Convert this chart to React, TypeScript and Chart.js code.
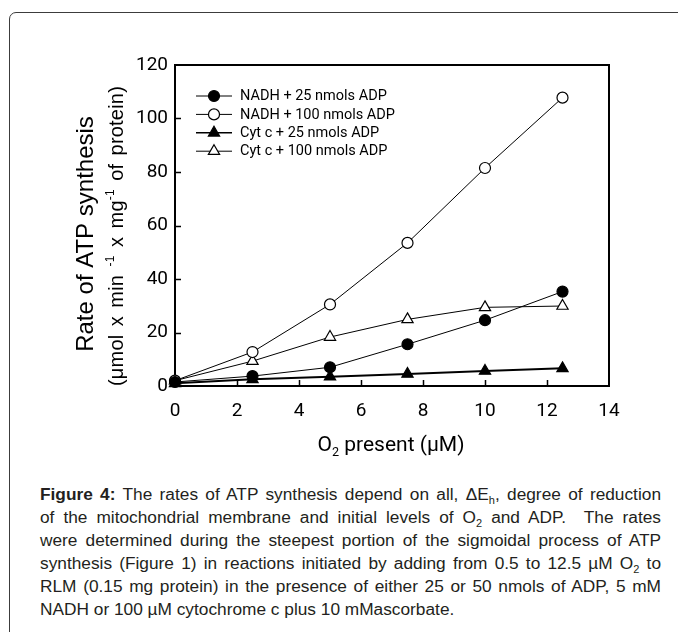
import React, { useEffect, useRef } from "react";
import { Chart, registerables } from "chart.js";

Chart.register(...registerables);

// ---- data ----
const O2_PRESENT = [0, 2.5, 5, 7.5, 10, 12.5];
const NADH_25 = [1.5, 3.7, 7.0, 15.6, 24.6, 35.3];
const NADH_100 = [2.0, 12.7, 30.5, 53.5, 81.5, 107.8];
const CYT_25 = [1.0, 2.5, 3.5, 4.5, 5.6, 6.6];
const CYT_100 = [2.0, 9.3, 18.3, 24.9, 29.4, 29.9];
const SERIES_LABELS = [
  "NADH + 25 nmols ADP",
  "NADH + 100 nmols ADP",
  "Cyt c + 25 nmols ADP",
  "Cyt c + 100 nmols ADP",
];
const X_TICK_MARKS = [2, 4, 6, 8, 10, 12];
const Y_TICK_MARKS = [20, 40, 60, 80, 100];

const TICK_FONT = "Roboto";
const SANS = "'Liberation Sans', Arial, sans-serif";

type Marker = { shape: "circle" | "triangle"; filled: boolean; lw: number };
const MARKERS: Marker[] = [
  { shape: "circle", filled: true, lw: 1 },
  { shape: "circle", filled: false, lw: 1 },
  { shape: "triangle", filled: true, lw: 2 },
  { shape: "triangle", filled: false, lw: 1 },
];

function drawMarker(ctx: CanvasRenderingContext2D, m: Marker, x: number, y: number) {
  ctx.beginPath();
  if (m.shape === "circle") {
    ctx.arc(x, y, 5.5, 0, Math.PI * 2);
  } else {
    const r = 6.5;
    ctx.moveTo(x, y - r);
    ctx.lineTo(x + 0.866 * r, y + 0.5 * r);
    ctx.lineTo(x - 0.866 * r, y + 0.5 * r);
    ctx.closePath();
  }
  ctx.fillStyle = m.filled ? "#000" : "#fff";
  ctx.fill();
  ctx.lineWidth = 1.2;
  ctx.strokeStyle = "#000";
  ctx.stroke();
}

const framePlugin = {
  id: "frameTicks",
  beforeDatasetsDraw(chart: any) {
    const { ctx, chartArea: a, scales } = chart;
    ctx.save();
    ctx.strokeStyle = "#000";
    ctx.lineWidth = 2;
    ctx.strokeRect(a.left, a.top, a.right - a.left, a.bottom - a.top);
    ctx.lineWidth = 1.5;
    ctx.beginPath();
    X_TICK_MARKS.forEach((v) => {
      const px = Math.round(scales.x.getPixelForValue(v)) + 0.5;
      ctx.moveTo(px, a.bottom);
      ctx.lineTo(px, a.bottom - 6);
    });
    Y_TICK_MARKS.forEach((v) => {
      const py = Math.round(scales.y.getPixelForValue(v)) + 0.5;
      ctx.moveTo(a.left, py);
      ctx.lineTo(a.left + 6, py);
    });
    ctx.stroke();
    ctx.restore();
  },
};

const decorPlugin = {
  id: "decor",
  afterDraw(chart: any) {
    const { ctx } = chart;
    ctx.save();
    // legend
    const lx0 = 196, lx1 = 232, mx = 214, tx = 240;
    SERIES_LABELS.forEach((lab, i) => {
      const y = 96 + 18.4 * i;
      ctx.strokeStyle = "#000";
      ctx.lineWidth = MARKERS[i].lw === 2 ? 1.6 : 1;
      ctx.beginPath();
      ctx.moveTo(lx0, y);
      ctx.lineTo(lx1, y);
      ctx.stroke();
      drawMarker(ctx, MARKERS[i], mx, y);
      ctx.fillStyle = "#000";
      ctx.font = `14.5px ${TICK_FONT}`;
      ctx.textAlign = "left";
      ctx.textBaseline = "middle";
      ctx.fillText(lab, tx, y + 0.5);
    });

    // y title line 1
    ctx.save();
    ctx.translate(86, 234);
    ctx.rotate(-Math.PI / 2);
    ctx.font = `24px ${SANS}`;
    ctx.fillStyle = "#000";
    ctx.textAlign = "center";
    ctx.textBaseline = "middle";
    ctx.fillText("Rate of ATP synthesis", 0, 0);
    ctx.restore();

    // y title line 2 (rich)
    ctx.save();
    ctx.translate(116, 236);
    ctx.rotate(-Math.PI / 2);
    const base = 20;
    const segs = [
      { t: "(μmol x min ", sup: false },
      { t: "-1", sup: true },
      { t: " x mg", sup: false },
      { t: "-1", sup: true },
      { t: " of protein)", sup: false },
    ];
    const fontOf = (s: boolean) => `${s ? base * 0.6 : base}px ${SANS}`;
    (ctx as any).letterSpacing = "0.2px";
    let total = 0;
    let nSpaces = 0;
    segs.forEach((s) => {
      ctx.font = fontOf(s.sup);
      total += ctx.measureText(s.t).width;
      nSpaces += (s.t.match(/ /g) || []).length;
    });
    const target = 300;
    const wsp = Math.max(0, (target - total) / nSpaces);
    (ctx as any).wordSpacing = `${wsp}px`;
    let cx = -target / 2;
    ctx.textAlign = "left";
    ctx.textBaseline = "alphabetic";
    ctx.fillStyle = "#000";
    segs.forEach((s) => {
      ctx.font = fontOf(s.sup);
      const w = ctx.measureText(s.t).width;
      ctx.fillText(s.t, cx, s.sup ? 6.5 - base * 0.42 : 6.5);
      cx += w;
    });
    (ctx as any).letterSpacing = "0px";
    (ctx as any).wordSpacing = "0px";
    ctx.restore();

    // x title
    ctx.fillStyle = "#000";
    ctx.textBaseline = "alphabetic";
    ctx.textAlign = "left";
    const xf = 21;
    ctx.font = `${xf}px ${TICK_FONT}`;
    const wO = ctx.measureText("O").width;
    const rest = " present (μM)";
    const wR = ctx.measureText(rest).width;
    ctx.font = `${xf * 0.6}px ${TICK_FONT}`;
    const w2 = ctx.measureText("2").width;
    const totalW = wO + w2 + wR;
    let sx = 391 - totalW / 2;
    const bl = 451;
    ctx.font = `${xf}px ${TICK_FONT}`;
    ctx.fillText("O", sx, bl);
    sx += wO;
    ctx.font = `${xf * 0.6}px ${TICK_FONT}`;
    ctx.fillText("2", sx, bl + 5);
    sx += w2;
    ctx.font = `${xf}px ${TICK_FONT}`;
    ctx.fillText(rest, sx, bl);

    ctx.restore();
  },
};

function makeDataset(i: number, vals: number[]) {
  const m = MARKERS[i];
  return {
    label: SERIES_LABELS[i],
    data: O2_PRESENT.map((x, k) => ({ x, y: vals[k] })),
    borderColor: "#000",
    borderWidth: m.lw,
    pointStyle: m.shape,
    pointRadius: m.shape === "circle" ? 5.5 : 6.5,
    pointHoverRadius: m.shape === "circle" ? 5.5 : 6.5,
    pointBackgroundColor: m.filled ? "#000" : "#fff",
    pointBorderColor: "#000",
    pointBorderWidth: 1.2,
    tension: 0,
    fill: false,
    clip: false as any,
  };
}

const subStyle: React.CSSProperties = { fontSize: 11, lineHeight: 0 };

const captionLines: React.ReactNode[] = [
  <>
    <b>Figure 4:</b> The rates of ATP synthesis depend on all, ΔE
    <sub style={subStyle}>h</sub>, degree of reduction
  </>,
  <>
    of the mitochondrial membrane and initial levels of O
    <sub style={subStyle}>2</sub> and ADP.&nbsp; The rates
  </>,
  <>were determined during the steepest portion of the sigmoidal process of ATP</>,
  <>
    synthesis (Figure 1) in reactions initiated by adding from 0.5 to 12.5 µM O
    <sub style={subStyle}>2</sub> to
  </>,
  <>RLM (0.15 mg protein) in the presence of either 25 or 50 nmols of ADP, 5 mM</>,
  <>NADH or 100 µM cytochrome c plus 10 mMascorbate.</>,
];

export default function App() {
  const ref = useRef<HTMLCanvasElement>(null);

  useEffect(() => {
    if (!ref.current) return;
    const chart = new Chart(ref.current, {
      type: "line",
      data: {
        datasets: [
          makeDataset(0, NADH_25),
          makeDataset(1, NADH_100),
          makeDataset(2, CYT_25),
          makeDataset(3, CYT_100),
        ] as any,
      },
      options: {
        responsive: false,
        animation: false,
        devicePixelRatio: 1,
        layout: { padding: { top: 65, right: 69, left: 0, bottom: 0 } },
        plugins: {
          legend: { display: false },
          title: { display: false },
          tooltip: { enabled: false },
        },
        scales: {
          x: {
            type: "linear",
            min: 0,
            max: 14,
            ticks: {
              stepSize: 2,
              color: "#000",
              font: { family: TICK_FONT, size: 19 },
              padding: 14,
              maxRotation: 0,
            },
            grid: { display: false, drawTicks: false },
            border: { display: false },
            afterFit: (s: any) => {
              s.height = 84;
            },
          },
          y: {
            type: "linear",
            min: 0,
            max: 120,
            ticks: {
              stepSize: 20,
              color: "#000",
              font: { family: TICK_FONT, size: 19 },
              padding: 7,
            },
            grid: { display: false, drawTicks: false },
            border: { display: false },
            afterFit: (s: any) => {
              s.width = 175;
            },
          },
        },
      } as any,
      plugins: [framePlugin, decorPlugin],
    });
    return () => chart.destroy();
  }, []);

  return (
    <div
      style={{
        position: "absolute",
        left: 0,
        top: 0,
        width: 678,
        height: 632,
        overflow: "hidden",
        background: "#fff",
      }}
    >
      <div
        style={{
          position: "absolute",
          left: 9,
          top: 12,
          width: 720,
          height: 700,
          border: "1px solid #3c3c3c",
          borderTopLeftRadius: 7,
          boxSizing: "border-box",
        }}
      />
      <canvas
        ref={ref}
        width={678}
        height={470}
        style={{ position: "absolute", left: 0, top: 0, width: 678, height: 470 }}
      />
      <div
        style={{
          position: "absolute",
          left: 40,
          top: 483,
          width: 621,
          fontFamily: SANS,
          fontSize: 17.3,
          lineHeight: "23px",
          color: "#231f20",
        }}
      >
        {captionLines.map((ln, i) => (
          <div
            key={i}
            style={{
              whiteSpace: "nowrap",
              textAlign: i === captionLines.length - 1 ? "left" : "justify",
              textAlignLast: i === captionLines.length - 1 ? "left" : "justify",
            }}
          >
            {ln}
          </div>
        ))}
      </div>
    </div>
  );
}
